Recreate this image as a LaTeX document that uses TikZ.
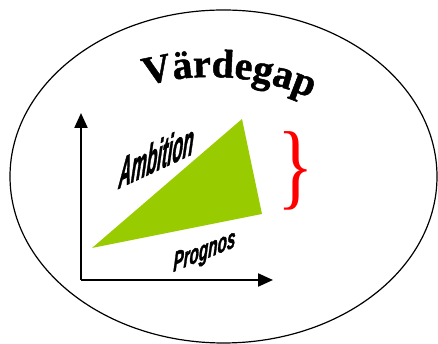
\documentclass[tikz,border=0pt]{standalone}
\usepackage{fontspec}
\usepackage{graphicx}
\setmainfont{Liberation Serif}
\newfontfamily\titlefont[BoldFeatures={FakeBold=1.2}]{Liberation Serif}
\newfontfamily\heavysans[FakeBold=1.8]{Liberation Sans Bold Italic}
\usetikzlibrary{arrows.meta,decorations.text}
\definecolor{gapgreen}{HTML}{99CC00}
\definecolor{bracered}{HTML}{FF0000}
\tikzset{
  axisline/.style={line width=2.2pt,-{Triangle[length=15pt,width=13pt]}},
  slanttext/.style={transform shape,anchor=base west,inner sep=0pt},
}
\begin{document}
\begin{tikzpicture}[x=1pt,y=1pt]
\useasboundingbox (0,0) rectangle (438,344);
% outer ellipse
\coordinate (ell) at (223.5,167.5);
\draw[line width=1.2pt] (ell) ellipse [x radius=213.5, y radius=166.5];
% gap triangle
\coordinate (p0) at (92,96);
\coordinate (amb) at (242,225);
\coordinate (prog) at (262,130);
\fill[gapgreen] (p0) -- (amb) -- (prog) -- cycle;
% axes
\coordinate (origin) at (81,64);
\coordinate (ytip) at (81,231);
\coordinate (xtip) at (273,64);
\draw[axisline] (origin) -- (ytip);
\draw[axisline] (origin) -- (xtip);
% title along arc
\path[decorate,decoration={text along path,text align=left,
  text={|\titlefont\fontsize{40}{40}\selectfont\bfseries|Värdegap}}]
  (210,17) ++(105:250) arc[start angle=105,end angle=50,radius=250];
% Ambition label
\begin{scope}[shift={(118,155)},cm={0.906,0.423,0.17,2.3,(0,0)}]
  \node[slanttext,font=\heavysans\fontsize{19}{19}\selectfont] (ambl) at (0,0) {Ambition};
\end{scope}
% Prognos label
\begin{scope}[shift={(173,72)},cm={0.927,0.375,0.06,1.7,(0,0)}]
  \node[slanttext,font=\heavysans\fontsize{16.5}{16.5}\selectfont] (progl) at (0,0) {Prognos};
\end{scope}
% red brace
\node[anchor=base west,inner sep=0pt,text=bracered] (brace) at (277,146)
  {\scalebox{0.8}[1]{\fontsize{95}{95}\selectfont\}}};
\end{tikzpicture}
\end{document}
